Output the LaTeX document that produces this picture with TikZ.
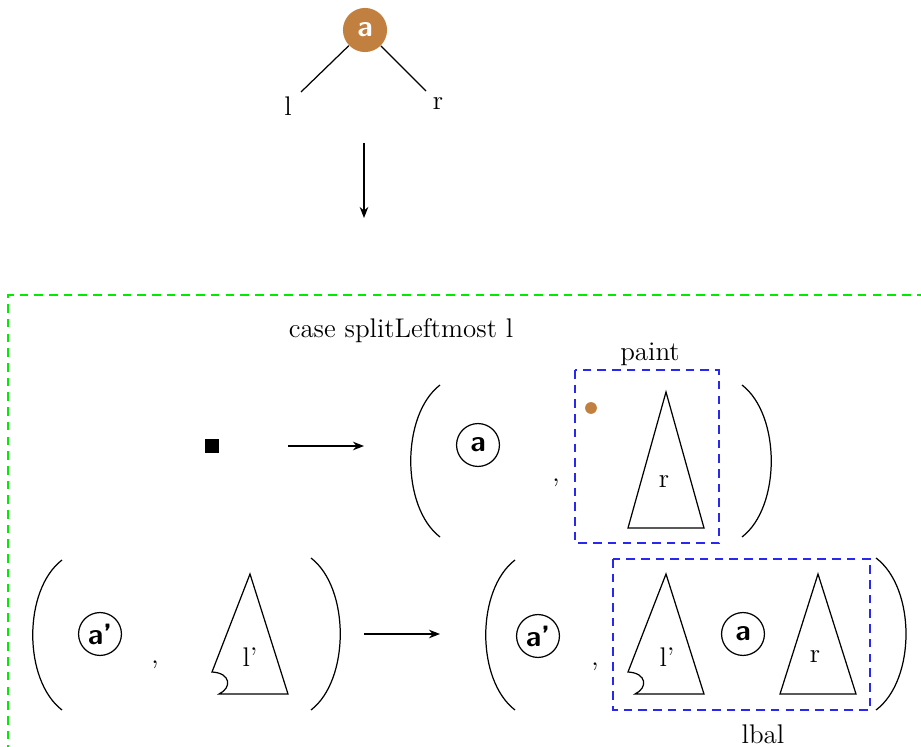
\documentclass[tikz,border=0pt]{standalone}
\usetikzlibrary{arrows.meta}
\definecolor{ochre}{RGB}{193,128,64}
\definecolor{dgreen}{RGB}{0,235,0}
\definecolor{dblue}{RGB}{40,40,240}
\begin{document}
\begin{tikzpicture}[x=0.408pt,y=-0.408pt,
  circ/.style={circle,draw,line width=0.5pt,minimum size=17.5pt,inner sep=0pt,font=\sffamily\bfseries\large},
  lbl/.style={inner sep=0pt,font=\fontsize{11}{13}\selectfont},
  arr/.style={-{Stealth[length=4.5pt,width=3.5pt]},line width=0.5pt},
  tri/.style={line width=0.5pt,line join=miter},
  gbox/.style={dgreen,line width=0.5pt,dash pattern=on 3.5pt off 2.5pt},
  bbox/.style={dblue,line width=0.5pt,dash pattern=on 3.5pt off 2.5pt},
  paren/.style={line width=0.5pt}]
\useasboundingbox (0,0) rectangle (921,747);
% top tree
\node[circle,fill=ochre,minimum size=18pt,inner sep=0pt,text=white,font=\sffamily\bfseries\large] (top) at (365,30) {a};
\node[lbl] (l) at (288,106) {l};
\node[lbl] (r) at (438,104) {r};
\coordinate (lend) at (301,92);
\coordinate (rend) at (426,91);
\draw[line width=0.5pt] (top) -- (lend);
\draw[line width=0.5pt] (top) -- (rend);
\coordinate (d1) at (364,143);
\coordinate (d2) at (364,218);
\draw[arr] (d1) -- (d2);
% green box
\draw[gbox] (940,295) -- (8,295) -- (8,760);
\node[lbl] (case) at (401,331) {case splitLeftmost l};
% row 1
\node[fill=black,minimum size=5.8pt,inner sep=0pt] (sq) at (212,446) {};
\coordinate (a1s) at (288,446);
\coordinate (a1e) at (364,446);
\draw[arr] (a1s) -- (a1e);
\draw[paren] (440,385) .. controls (401,415) and (401,507) .. (440,537);
\draw[paren] (742,385) .. controls (781,415) and (781,507) .. (742,537);
\node[circ] (ca) at (478,445) {a};
\node[lbl] (c1) at (556,483) {,};
\draw[bbox] (575,370) rectangle (719,543);
\node[lbl] (paint) at (650,354) {paint};
\node[circle,fill=ochre,minimum size=4.8pt,inner sep=0pt] (dot) at (591,408) {};
\draw[tri] (666,392) -- (704,528) -- (628,528) -- cycle;
\node[lbl] (r1) at (664,482) {r};
% row 2 left
\draw[paren] (62,560) .. controls (23,590) and (23,680) .. (62,710);
\draw[paren] (311,558) .. controls (350,588) and (350,680) .. (311,710);
\node[circ] (cap1) at (100,634) {a'};
\node[lbl] (c2) at (155,665) {,};
\draw[tri] (250,574) -- (288,694) -- (219,694) .. controls (232,688) and (231,673) .. (212,672) -- cycle;
\node[lbl] (lp1) at (250,657) {l'};
\coordinate (a2s) at (364,634);
\coordinate (a2e) at (440,634);
\draw[arr] (a2s) -- (a2e);
% row 2 right
\draw[paren] (515,560) .. controls (476,590) and (476,680) .. (515,710);
\draw[paren] (876,558) .. controls (916,588) and (916,680) .. (876,710);
\node[circ] (cap2) at (538,636) {a'};
\node[lbl] (c3) at (595,667) {,};
\draw[bbox] (613,559) rectangle (870,710);
\draw[tri] (666,574) -- (704,694) -- (635,694) .. controls (648,688) and (647,673) .. (628,672) -- cycle;
\node[lbl] (lp2) at (667,657) {l'};
\node[circ] (ca2) at (743,634) {a};
\draw[tri] (818,574) -- (856,694) -- (780,694) -- cycle;
\node[lbl] (r2) at (815,657) {r};
\node[lbl] (lbal) at (763,734) {lbal};
\end{tikzpicture}
\end{document}
